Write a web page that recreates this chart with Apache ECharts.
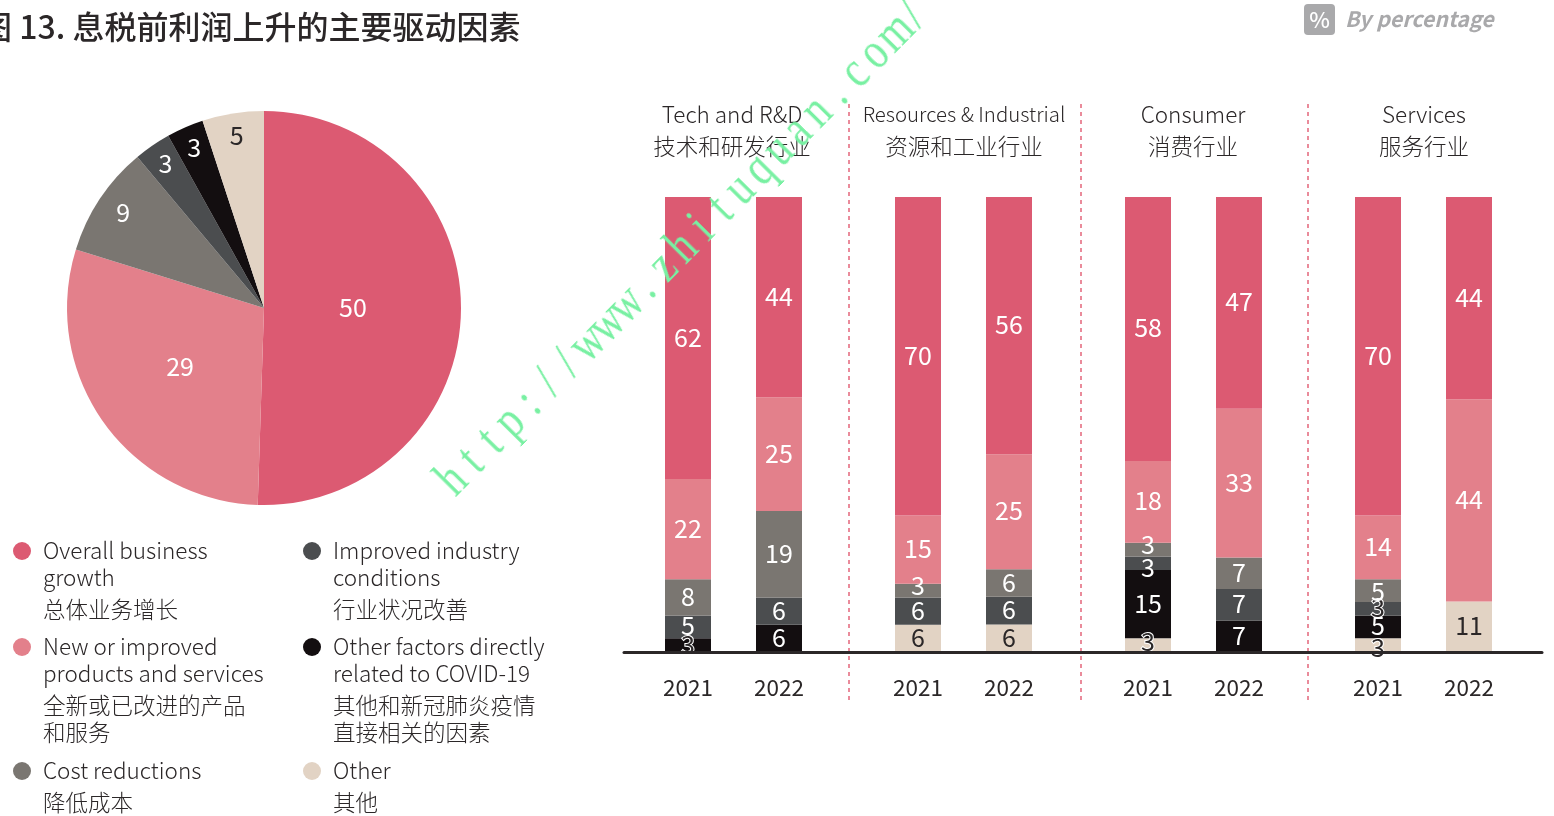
<!DOCTYPE html>
<html><head><meta charset="utf-8">
<style>
html,body{margin:0;padding:0;background:#fff;overflow:hidden}
#chart{width:1554px;height:816px;position:absolute;left:0;top:0}
#mark{position:absolute;left:441px;top:488px;transform-origin:0 50%;transform:translate(0,-50%) rotate(-45.3deg) scaleX(.8);font:52px/52px "Liberation Serif",serif;color:#78f0a2;white-space:nowrap;pointer-events:none}
#mark span{display:inline-block;width:34.1px;text-align:center}
</style>
<script src="https://cdn.jsdelivr.net/npm/echarts@6/dist/echarts.min.js"></script>
</head><body>
<div id="chart"></div>
<div id="mark"></div>
<script>
const factorNames = ['Overall business growth','New or improved products and services','Cost reductions','Improved industry conditions','Other factors directly related to COVID-19','Other'];
const pieValues = [50,29,9,3,3,5];
const years = ['2021','2022'];
const sectorEn = ['Tech and R&D','Resources & Industrial','Consumer','Services'];
const sectorZh = ['技术和研发行业','资源和工业行业','消费行业','服务行业'];
// order of bars: sector 1 2021, sector 1 2022, sector 2 2021, ...
const overallGrowth    = [62,44,70,56,58,47,70,44];
const newProducts      = [22,25,15,25,18,33,14,44];
const costReductions   = [ 8,19, 3, 6, 3, 7, 5, 0];
const improvedIndustry = [ 5, 6, 6, 6, 3, 7, 3, 0];
const covidFactors     = [ 3, 6, 0, 0,15, 7, 5, 0];
const otherFactors     = [ 0, 0, 6, 6, 3, 0, 3,11];
const barSeries = [overallGrowth,newProducts,costReductions,improvedIndustry,covidFactors,otherFactors];
const legendLines = [
 ['Overall business','growth','总体业务增长'],
 ['New or improved','products and services','全新或已改进的产品','和服务'],
 ['Cost reductions','降低成本'],
 ['Improved industry','conditions','行业状况改善'],
 ['Other factors directly','related to COVID-19','其他和新冠肺炎疫情','直接相关的因素'],
 ['Other','其他']];
const watermark = 'http://www.zhituquan.com/';

// styling and layout
const colors = ['#DC5A72','#E3808B','#7A7671','#4B4D4F','#130E10','#E2D3C4'];
const FONT = '"Noto Sans CJK SC","Noto Sans",sans-serif';
const INK = '#2b2728';
const barCentres = [[688,779],[918,1009],[1148,1239],[1378,1469]];
const headerCentres = [732,964,1193,1424];
const separators = [849,1081,1308];
const labelNudge = {'2|2':-4,'2|4':-4,'3|4':5,'5|4':-3,'2|6':2,'5|6':3};
const haloLabels = ['4|0','5|4','3|6','5|6'];
const pieLabelRadius = [86,100,166,171,171,170];
const legendX = [22,22,22,312,312,312];
const legendY = [[550,577,609],[646,673,705,732],[770,802],[550,577,609],[646,673,705,732],[770,802]];

const markEl=document.getElementById('mark');
for(const ch of watermark){const sp=document.createElement('span');sp.textContent=ch;markEl.appendChild(sp);}

const grids=[], xAxes=[], yAxes=[], series=[];
barCentres.forEach((c,g)=>{
  const band=c[1]-c[0];
  grids.push({left:c[0]-band/2,width:band*2,top:197,height:455});
  xAxes.push({type:'category',gridIndex:g,data:years,axisLine:{show:false},axisTick:{show:false},
    axisLabel:{color:INK,fontSize:22.5,fontFamily:FONT,margin:24}});
  yAxes.push({type:'value',gridIndex:g,min:0,max:100,show:false});
  for(let s=barSeries.length-1;s>=0;s--){
    const vals=barSeries[s];
    series.push({type:'bar',name:factorNames[s],xAxisIndex:g,yAxisIndex:g,stack:'s'+g,barWidth:46,
      itemStyle:{color:colors[s]},
      data:[0,1].map(y=>{
        const i=g*2+y, raw=vals[i];
        const total=barSeries.reduce((a,v)=>a+v[i],0);
        const key=s+'|'+i, halo=haloLabels.includes(key);
        return {value:raw/total*100,raw:raw,label:{
          show:raw>0,position:'inside',formatter:String(raw),fontSize:25,fontFamily:FONT,
          color:(s===5||halo)?INK:'#fff',
          textBorderColor:halo?'#fff':'transparent',textBorderWidth:halo?2:0,
          offset:[0,(labelNudge[key]||0)-1]}};
      })});
  }
});
// shared baseline
grids.push({left:624,width:918,top:197,height:455.5});
xAxes.push({type:'value',gridIndex:4,min:0,max:1,axisLabel:{show:false},axisTick:{show:false},splitLine:{show:false},
  axisLine:{show:true,lineStyle:{color:INK,width:3}},z:10});
yAxes.push({type:'value',gridIndex:4,min:0,max:1,show:false});

let acc=0;
const pieData=pieValues.map((v,i)=>({value:v,name:factorNames[i],itemStyle:{color:colors[i]},
  label:{color:i===5?INK:'#fff'}}));
const pieTotal=pieValues.reduce((a,b)=>a+b,0);
const pieMid=pieValues.map(v=>{const m=(acc+v/2)/pieTotal*2*Math.PI;acc+=v;return m;});
const R=197;
series.push({type:'pie',center:[264,308],radius:[0,R],startAngle:90,clockwise:true,silent:true,animation:false,
  data:pieData,
  label:{position:'inside',formatter:'{c}',fontSize:25,fontFamily:FONT},
  labelLine:{show:false},
  labelLayout:p=>{const k=pieLabelRadius[p.dataIndex]-R/2,a=pieMid[p.dataIndex];
    return {dx:k*Math.sin(a),dy:-k*Math.cos(a)-1.5};}});

const graphic=[];
separators.forEach(x=>graphic.push({type:'line',shape:{x1:x,y1:104,x2:x,y2:700},
  style:{stroke:'#E3657B',lineWidth:1.5,lineDash:[4,4]}}));
sectorEn.forEach((t,i)=>{
  graphic.push({type:'text',x:headerCentres[i],y:114,style:{text:t,align:'center',verticalAlign:'middle',fill:INK,fontSize:i===1?20.4:22.5,fontFamily:FONT,fontWeight:300}});
  graphic.push({type:'text',x:headerCentres[i],y:146,style:{text:sectorZh[i],align:'center',verticalAlign:'middle',fill:INK,fontSize:22.5,fontFamily:FONT,fontWeight:300}});
});
legendLines.forEach((lines,i)=>{
  graphic.push({type:'circle',shape:{cx:legendX[i],cy:legendY[i][0]+1,r:9},style:{fill:colors[i]}});
  lines.forEach((t,j)=>graphic.push({type:'text',x:legendX[i]+21,y:legendY[i][j],
    style:{text:t,align:'left',verticalAlign:'middle',fill:INK,fontSize:22.5,fontFamily:FONT,fontWeight:300}}));
});
graphic.push({type:'rect',shape:{x:1304,y:4,width:31,height:31,r:4},style:{fill:'#A9A9AB'}});
graphic.push({type:'text',x:1319.5,y:20,style:{text:'%',align:'center',verticalAlign:'middle',fill:'#fff',fontSize:22,fontWeight:500,fontFamily:FONT}});
graphic.push({type:'text',x:1345,y:19,style:{text:'By percentage',align:'left',verticalAlign:'middle',fill:'#A9A9AB',fontSize:21.3,fontStyle:'italic',fontWeight:'bold',fontFamily:FONT}});

const chart=echarts.init(document.getElementById('chart'),null,{renderer:'canvas'});
chart.setOption({animation:false,backgroundColor:'#fff',
  title:{text:'图 13. 息税前利润上升的主要驱动因素',left:-25,top:6,
    textStyle:{fontSize:32,fontWeight:500,color:INK,fontFamily:FONT}},
  grid:grids,xAxis:xAxes,yAxis:yAxes,series:series,graphic:graphic});
</script>
</body></html>
